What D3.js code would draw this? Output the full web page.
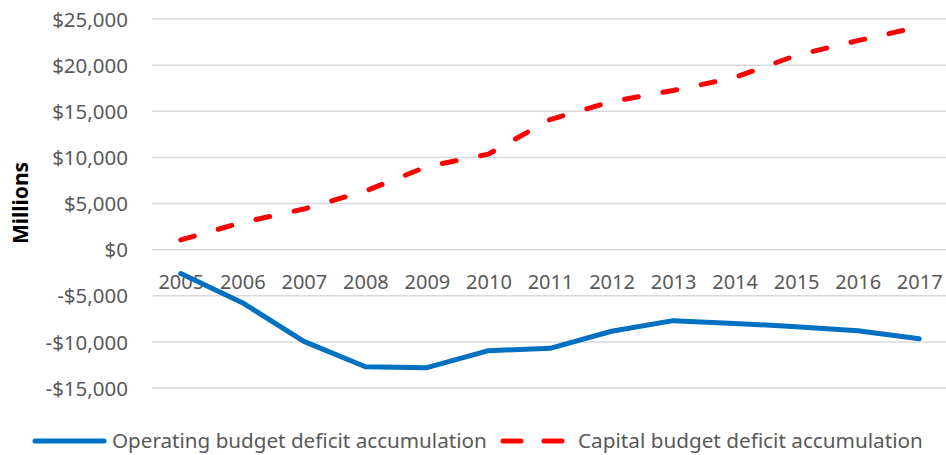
<!DOCTYPE html>
<html>
<head>
<meta charset="utf-8">
<script src="https://cdn.jsdelivr.net/npm/d3@7"></script>
<style>
  html, body { margin: 0; padding: 0; background: #fff; }
  svg { display: block; }
  text { font-family: "Noto Sans", "Open Sans", sans-serif; }
</style>
</head>
<body>
<svg id="chart" width="946" height="455"></svg>
<script>
const years = ["2005","2006","2007","2008","2009","2010","2011","2012","2013","2014","2015","2016","2017"];
const operating = [-2600, -5750, -9950, -12700, -12800, -10950, -10700, -8850, -7700, -8000, -8350, -8800, -9650];
const capital = [1050, 2950, 4400, 6350, 9000, 10350, 14100, 16050, 17250, 18650, 21050, 22650, 24150];
const yTicks = [-15000, -10000, -5000, 0, 5000, 10000, 15000, 20000, 25000];
const seriesNames = ["Operating budget deficit accumulation", "Capital budget deficit accumulation"];
const seriesColors = ["#0070C0", "#FF0000"];

const svg = d3.select("#chart");
const x = d3.scalePoint().domain(years).range([150, 950]).padding(0.5);
const y = d3.scaleLinear().domain([-15000, 25000]).range([388, 19]);

const fmt = v => (v < 0 ? "-$" : "$") + d3.format(",")(Math.abs(v));

// gridlines
svg.append("g").selectAll("line").data(yTicks).join("line")
  .attr("x1", 152).attr("x2", 950)
  .attr("y1", d => y(d)).attr("y2", d => y(d))
  .attr("stroke", "#d9d9d9").attr("stroke-width", 1.5);

// y axis labels
const yAxis = d3.axisLeft(y).tickValues(yTicks).tickFormat(fmt).tickSize(0).tickPadding(0);
const gy = svg.append("g").attr("transform", "translate(128,0)").call(yAxis);
gy.select(".domain").remove();
gy.selectAll("text").attr("fill", "#595959").style("font-size", "20.5px")
  .style("font-family", "'Noto Sans', sans-serif").attr("dy", "0.35em");

// x axis labels (at zero line, below)
const xAxis = d3.axisBottom(x).tickSize(0).tickPadding(0);
const gx = svg.append("g").attr("transform", "translate(0,282)").call(xAxis);
gx.select(".domain").remove();
gx.selectAll("text").attr("fill", "#595959").style("font-size", "20px")
  .style("font-family", "'Noto Sans', sans-serif").attr("dy", "0.35em");

// y title
const yt = svg.append("text")
  .attr("transform", "translate(28,203) rotate(-90)")
  .attr("text-anchor", "middle")
  .attr("font-weight", "bold").attr("fill", "#000")
  .style("font-size", "21px").text("Millions");

// lines
const line = d3.line().x((d, i) => x(years[i])).y(d => y(d));
svg.append("path").datum(operating).attr("d", line)
  .attr("fill", "none").attr("stroke", seriesColors[0]).attr("stroke-width", 5)
  .attr("stroke-linejoin", "round").attr("stroke-linecap", "round");
svg.append("path").datum(capital).attr("d", line)
  .attr("fill", "none").attr("stroke", seriesColors[1]).attr("stroke-width", 5)
  .attr("stroke-dasharray", "14 25")
  .attr("stroke-linejoin", "round").attr("stroke-linecap", "round");

// legend
const ly = 441;
const lg = svg.append("g");
lg.append("line").attr("x1", 35).attr("x2", 104).attr("y1", ly).attr("y2", ly)
  .attr("stroke", seriesColors[0]).attr("stroke-width", 5).attr("stroke-linecap", "round");
lg.append("line").attr("x1", 503).attr("x2", 563).attr("y1", ly).attr("y2", ly)
  .attr("stroke", seriesColors[1]).attr("stroke-width", 5).attr("stroke-linecap", "round")
  .attr("stroke-dasharray", "18 23");

function fitText(sel, target) {
  let fs = 20;
  sel.style("font-size", fs + "px");
  const w = sel.node().getComputedTextLength();
  fs = fs * target / w;
  sel.style("font-size", fs + "px");
}
const t1 = lg.append("text").attr("x", 112).attr("y", ly).attr("dy", "0.35em")
  .attr("fill", "#595959").text(seriesNames[0]);
fitText(t1, 375);
const t2 = lg.append("text").attr("x", 578).attr("y", ly).attr("dy", "0.35em")
  .attr("fill", "#595959").text(seriesNames[1]);
fitText(t2, 345);
</script>
</body>
</html>
